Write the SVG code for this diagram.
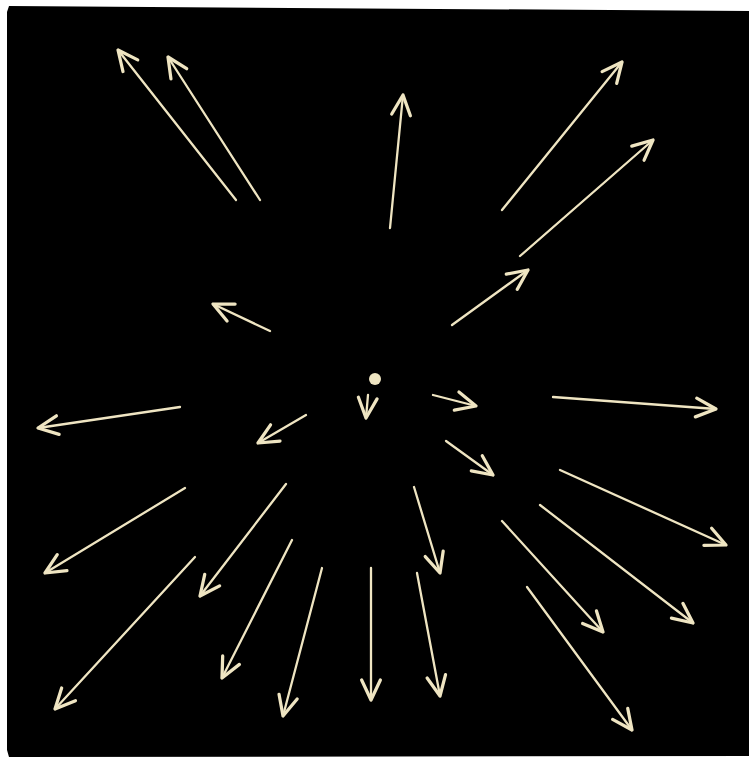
<svg xmlns="http://www.w3.org/2000/svg" width="749" height="760" viewBox="0 0 749 760">
<defs>
<marker id="ah" markerUnits="userSpaceOnUse" markerWidth="30" markerHeight="30" viewBox="-20 -12 24 24" refX="0" refY="0" orient="auto">
<path d="M-16,-7.5 L0,0 L-16,7.5" fill="none" stroke="#efe5c2" stroke-width="2.6" stroke-linecap="round" stroke-linejoin="round"/>
</marker>
</defs>
<style>
.a{stroke:#efe5c2;stroke-width:2.3;stroke-linecap:round;fill:none;marker-end:url(#ah)}
</style>
<rect width="749" height="760" fill="#ffffff"/>
<polygon points="9,6 749,11 749,756 9,757 7,750 7,12" fill="#000000"/>
<circle id="source" cx="375" cy="379" r="6" fill="#efe5c2"/>
<g id="connectors">
<line class="a" x1="236" y1="200" x2="118" y2="50"/>
<line class="a" x1="260" y1="200" x2="168" y2="57"/>
<line class="a" x1="390" y1="228" x2="403" y2="95"/>
<line class="a" x1="502" y1="210" x2="622" y2="62"/>
<line class="a" x1="520" y1="256" x2="653" y2="140"/>
<line class="a" x1="452" y1="325" x2="528" y2="270"/>
<line class="a" x1="270" y1="331" x2="213" y2="304"/>
<line class="a" x1="368" y1="395" x2="366" y2="418"/>
<line class="a" x1="433" y1="395" x2="476" y2="406"/>
<line class="a" x1="553" y1="397" x2="716" y2="409"/>
<line class="a" x1="180" y1="407" x2="38" y2="428"/>
<line class="a" x1="306" y1="415" x2="258" y2="443"/>
<line class="a" x1="446" y1="441" x2="493" y2="475"/>
<line class="a" x1="560" y1="470" x2="726" y2="545"/>
<line class="a" x1="185" y1="488" x2="45" y2="573"/>
<line class="a" x1="286" y1="484" x2="200" y2="596"/>
<line class="a" x1="414" y1="487" x2="440" y2="573"/>
<line class="a" x1="540" y1="505" x2="693" y2="623"/>
<line class="a" x1="502" y1="521" x2="603" y2="632"/>
<line class="a" x1="292" y1="540" x2="222" y2="678"/>
<line class="a" x1="195" y1="557" x2="55" y2="709"/>
<line class="a" x1="322" y1="568" x2="283" y2="716"/>
<line class="a" x1="371" y1="568" x2="371" y2="700"/>
<line class="a" x1="417" y1="573" x2="440" y2="696"/>
<line class="a" x1="527" y1="587" x2="632" y2="730"/>
</g>
</svg>
